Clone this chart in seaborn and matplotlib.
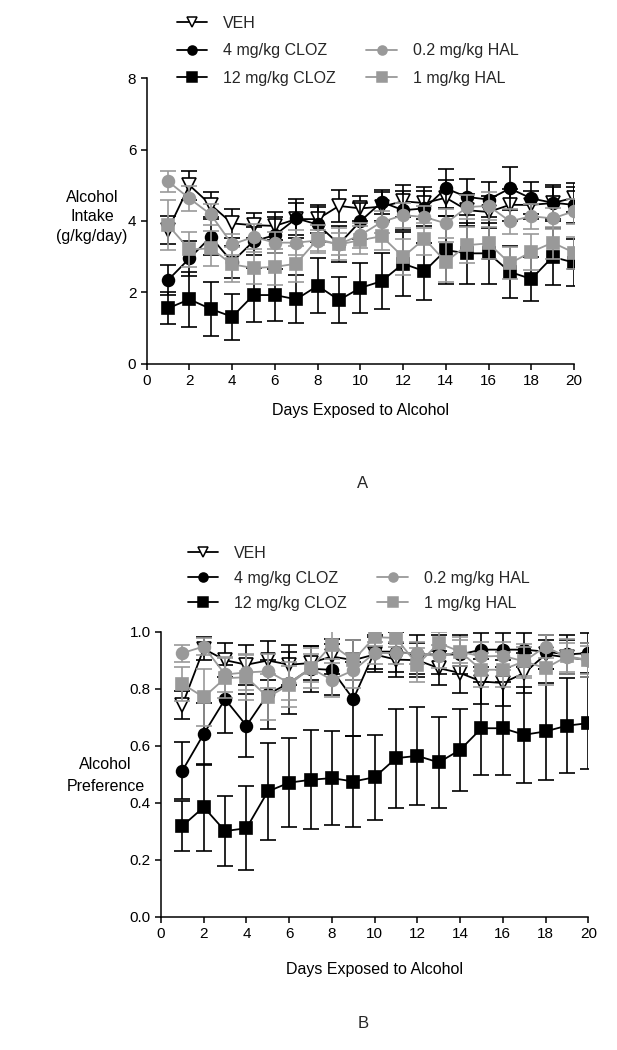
import matplotlib
matplotlib.use("Agg")
import numpy as np
import pandas as pd
import seaborn as sns
import matplotlib.pyplot as plt
from matplotlib.lines import Line2D

# ---------------- data ----------------
days = list(range(1, 21))
series_labels = ["VEH", "4 mg/kg CLOZ", "12 mg/kg CLOZ", "0.2 mg/kg HAL", "1 mg/kg HAL"]
x_ticks = [0, 2, 4, 6, 8, 10, 12, 14, 16, 18, 20]
intake_ticks = [0, 2, 4, 6, 8]
pref_ticks = [0.0, 0.2, 0.4, 0.6, 0.8, 1.0]
x_label = "Days Exposed to Alcohol"
intake_label = "Alcohol\nIntake\n(g/kg/day)"
pref_label = "Alcohol\nPreference"

# Panel A: alcohol intake (g/kg/day), mean and SEM
veh_intake = [3.75, 5.0, 4.45, 3.93, 3.88, 3.86, 4.05, 4.05, 4.42, 4.35, 4.4, 4.55, 4.5, 4.65, 4.3, 4.25, 4.45, 4.45, 4.5, 4.65]
veh_intake_sem = [0.4, 0.4, 0.35, 0.4, 0.35, 0.4, 0.45, 0.4, 0.45, 0.35, 0.4, 0.45, 0.45, 0.5, 0.45, 0.45, 0.45, 0.4, 0.45, 0.4]
cloz4_intake = [2.34, 2.95, 3.55, 2.85, 3.43, 3.6, 4.07, 3.9, 3.35, 3.99, 4.53, 4.3, 4.35, 4.91, 4.67, 4.6, 4.91, 4.63, 4.51, 4.45]
cloz4_intake_sem = [0.42, 0.5, 0.5, 0.45, 0.4, 0.5, 0.55, 0.5, 0.5, 0.5, 0.35, 0.55, 0.5, 0.55, 0.5, 0.5, 0.6, 0.45, 0.5, 0.5]
cloz12_intake = [1.55, 1.8, 1.53, 1.31, 1.92, 1.92, 1.8, 2.18, 1.78, 2.12, 2.31, 2.8, 2.59, 3.18, 3.09, 3.09, 2.57, 2.37, 2.99, 2.83]
cloz12_intake_sem = [0.45, 0.77, 0.75, 0.65, 0.75, 0.73, 0.67, 0.77, 0.65, 0.7, 0.78, 0.9, 0.8, 0.95, 0.85, 0.85, 0.73, 0.62, 0.8, 0.65]
hal02_intake = [5.11, 4.63, 4.18, 3.34, 3.55, 3.39, 3.39, 3.45, 3.35, 3.6, 3.97, 4.16, 4.11, 3.93, 4.39, 4.42, 3.99, 4.13, 4.07, 4.27]
hal02_intake_sem = [0.3, 0.35, 0.3, 0.3, 0.35, 0.3, 0.35, 0.3, 0.3, 0.35, 0.3, 0.35, 0.3, 0.4, 0.35, 0.4, 0.35, 0.35, 0.3, 0.35]
hal1_intake = [3.88, 3.2, 3.23, 2.78, 2.68, 2.71, 2.8, 3.49, 3.34, 3.46, 3.57, 2.99, 3.5, 2.85, 3.32, 3.37, 2.81, 3.13, 3.39, 3.11]
hal1_intake_sem = [0.7, 0.5, 0.5, 0.5, 0.45, 0.5, 0.5, 0.4, 0.45, 0.4, 0.4, 0.5, 0.45, 0.55, 0.5, 0.45, 0.45, 0.5, 0.45, 0.45]

# Panel B: alcohol preference, mean and SEM
veh_pref = [0.743, 0.94, 0.90, 0.884, 0.899, 0.884, 0.89, 0.913, 0.90, 0.92, 0.902, 0.90, 0.872, 0.855, 0.825, 0.82, 0.855, 0.92, 0.91, 0.90]
veh_pref_sem = [0.05, 0.04, 0.06, 0.07, 0.07, 0.07, 0.06, 0.06, 0.07, 0.06, 0.06, 0.06, 0.06, 0.07, 0.08, 0.08, 0.07, 0.05, 0.06, 0.06]
cloz4_pref = [0.512, 0.641, 0.763, 0.67, 0.78, 0.82, 0.87, 0.866, 0.763, 0.93, 0.93, 0.92, 0.92, 0.92, 0.937, 0.937, 0.937, 0.93, 0.92, 0.925]
cloz4_pref_sem = [0.10, 0.11, 0.12, 0.11, 0.12, 0.11, 0.08, 0.09, 0.13, 0.06, 0.07, 0.07, 0.07, 0.07, 0.06, 0.06, 0.06, 0.06, 0.07, 0.07]
cloz12_pref = [0.318, 0.384, 0.30, 0.31, 0.439, 0.47, 0.48, 0.486, 0.474, 0.489, 0.556, 0.564, 0.541, 0.585, 0.661, 0.661, 0.638, 0.65, 0.67, 0.679]
cloz12_pref_sem = [0.088, 0.153, 0.123, 0.147, 0.17, 0.157, 0.174, 0.164, 0.161, 0.15, 0.174, 0.172, 0.161, 0.144, 0.164, 0.164, 0.168, 0.17, 0.167, 0.162]
hal02_pref = [0.925, 0.948, 0.85, 0.857, 0.861, 0.82, 0.872, 0.831, 0.864, 0.925, 0.925, 0.925, 0.913, 0.93, 0.913, 0.915, 0.896, 0.948, 0.91, 0.90]
hal02_pref_sem = [0.03, 0.03, 0.06, 0.06, 0.06, 0.06, 0.05, 0.06, 0.06, 0.04, 0.04, 0.04, 0.04, 0.04, 0.05, 0.05, 0.05, 0.04, 0.05, 0.05]
hal1_pref = [0.817, 0.77, 0.837, 0.84, 0.77, 0.814, 0.872, 0.954, 0.90, 0.981, 0.978, 0.884, 0.96, 0.93, 0.866, 0.867, 0.896, 0.872, 0.913, 0.902]
hal1_pref_sem = [0.06, 0.1, 0.07, 0.08, 0.08, 0.08, 0.07, 0.05, 0.07, 0.03, 0.03, 0.06, 0.04, 0.05, 0.06, 0.06, 0.06, 0.06, 0.06, 0.06]

intake_means = [veh_intake, cloz4_intake, cloz12_intake, hal02_intake, hal1_intake]
intake_sems = [veh_intake_sem, cloz4_intake_sem, cloz12_intake_sem, hal02_intake_sem, hal1_intake_sem]
pref_means = [veh_pref, cloz4_pref, cloz12_pref, hal02_pref, hal1_pref]
pref_sems = [veh_pref_sem, cloz4_pref_sem, cloz12_pref_sem, hal02_pref_sem, hal1_pref_sem]

# ---------------- style ----------------
GRAY = "#999999"
styles = [
    dict(color="black", marker="v", mfc="white", ms=9.5),
    dict(color="black", marker="o", mfc="black", ms=8.5),
    dict(color="black", marker="s", mfc="black", ms=9.0),
    dict(color=GRAY, marker="o", mfc=GRAY, ms=8.5),
    dict(color=GRAY, marker="s", mfc=GRAY, ms=9.0),
]

sns.set_theme(style="ticks")
plt.rcParams["font.family"] = ["Liberation Sans", "DejaVu Sans"]
plt.rcParams["axes.linewidth"] = 1.1

W, H = 617, 1050
fig = plt.figure(figsize=(W / 100, H / 100), dpi=100)


def px_axes(left, top, right, bottom):
    return fig.add_axes([left / W, 1 - bottom / H, (right - left) / W, (bottom - top) / H])


def draw_panel(ax, means, sems, ylim, yticks, ylabel, ylab_xy, xlab_y, yfmt, lsp):
    for i, (m, s) in enumerate(zip(means, sems)):
        st = styles[i]
        ax.errorbar(days, m, yerr=s, fmt="none", ecolor=st["color"], elinewidth=1.2,
                    capsize=5.5, capthick=1.2, zorder=2 + 2 * i)
        df = pd.DataFrame({"day": days, "val": m})
        sns.lineplot(data=df, x="day", y="val", ax=ax, color=st["color"], linewidth=1.3,
                     marker=st["marker"], markersize=st["ms"], markerfacecolor=st["mfc"],
                     markeredgecolor=st["color"], markeredgewidth=1.2, zorder=3 + 2 * i,
                     errorbar=None)
    ax.set_xlim(0, 20)
    ax.set_ylim(*ylim)
    ax.set_xticks(x_ticks)
    ax.set_yticks(yticks)
    ax.set_yticklabels([yfmt.format(v) for v in yticks])
    ax.tick_params(direction="out", length=4.5, width=1.1, labelsize=11, colors="black", pad=3)
    for sp in ["top", "right"]:
        ax.spines[sp].set_visible(False)
    for sp in ["left", "bottom"]:
        ax.spines[sp].set_color("black")
    ax.set_xlabel(x_label, fontsize=11.5, color="black")
    ax.xaxis.set_label_coords(0.5, xlab_y)
    ax.set_ylabel(ylabel, fontsize=11.5, rotation=0, ha="center", va="center",
                  multialignment="center", color="black", linespacing=lsp)
    ax.yaxis.set_label_coords(*ylab_xy)


axA = px_axes(146.7, 78.3, 574, 363.5)
draw_panel(axA, intake_means, intake_sems, (0, 8), intake_ticks, intake_label,
           (-0.128, 0.515), -0.14, "{:g}", 1.38)

axB = px_axes(161, 631.7, 588.3, 916.5)
draw_panel(axB, pref_means, pref_sems, (0, 1.0), pref_ticks, pref_label,
           (-0.13, 0.495), -0.16, "{:.1f}", 1.6)


def add_legend(x0, y0, lspace):
    handles = []
    for st in styles:
        handles.append(Line2D([], [], color=st["color"], marker=st["marker"], markersize=6.5,
                              markerfacecolor=st["mfc"], markeredgecolor=st["color"],
                              markeredgewidth=1.1, linewidth=1.3))
    blank = Line2D([], [], alpha=0)
    hs = [handles[0], handles[1], handles[2], blank, handles[3], handles[4]]
    ls = [series_labels[0], series_labels[1], series_labels[2], "", series_labels[3], series_labels[4]]
    fig.legend(hs, ls, loc="upper left", bbox_to_anchor=(x0 / W, 1 - y0 / H), ncol=2,
               frameon=False, fontsize=11.5, handlelength=1.9, handletextpad=1.0,
               columnspacing=1.9, labelspacing=lspace, borderpad=0, borderaxespad=0)


add_legend(177, 16, 0.78)
add_legend(188, 546, 0.62)

fig.text(363 / W, 1 - 483 / H, "A", ha="center", va="center", fontsize=12)
fig.text(363 / W, 1 - 1023 / H, "B", ha="center", va="center", fontsize=12)

fig.savefig("out.png", dpi=100)
